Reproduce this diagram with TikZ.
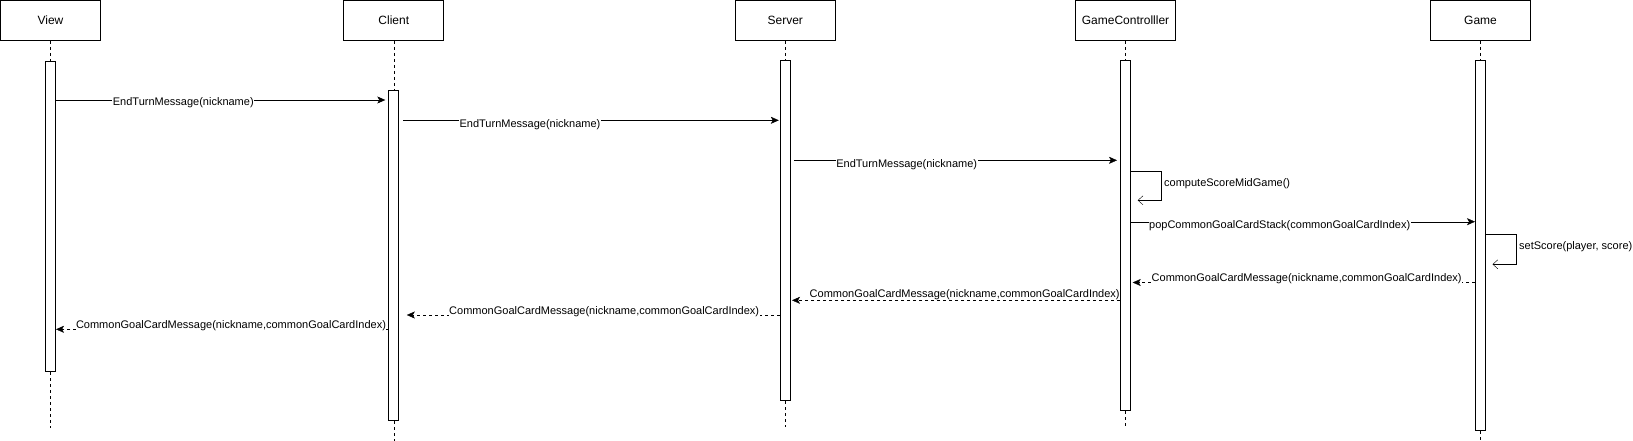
\documentclass[tikz,border=0pt]{standalone}
\usepackage{fontspec}
\setmainfont{Liberation Sans}
\usetikzlibrary{arrows.meta,calc}
\pgfdeclarelayer{bg}
\pgfsetlayers{bg,main}
\begin{document}
\begin{tikzpicture}[x=1pt,y=-1pt,line width=1pt,
  head/.style={draw, fill=white, minimum width=100pt, minimum height=40pt, inner sep=0pt, font=\fontsize{12}{14}\selectfont},
  bar/.style={draw, fill=white, minimum width=10pt, inner sep=0pt, anchor=north},
  life/.style={dash pattern=on 3pt off 3pt},
  msg/.style={-{Stealth[length=8pt,width=7pt,inset=2pt]}},
  ret/.style={dash pattern=on 3pt off 3pt, -{Stealth[length=8pt,width=7pt,inset=2pt]}},
  selfmsg/.style={-{Straight Barb[length=5pt,width=9pt]}},
  lbl/.style={fill=white, inner sep=0.5pt, font=\fontsize{11}{13}\selectfont}]
\path[use as bounding box] (0,0) rectangle (1633,441);

% lifeline heads
\node[head] (view)   at (50.5,20.5)   {View};
\node[head] (client) at (393.8,20.5)  {Client};
\node[head] (server) at (785.3,20.5)  {Server};
\node[head] (gc)     at (1125.5,20.5) {GameControlller};
\node[head] (game)   at (1480.5,20.5) {Game};

% activation bars
\node[bar, minimum height=310.3pt] (vbar)  at (view.south |- 0,61)     {};
\node[bar, minimum height=330pt]   (cbar)  at (client.south |- 0,90)   {};
\node[bar, minimum height=339.7pt] (sbar)  at (server.south |- 0,60.3) {};
\node[bar, minimum height=349.7pt] (gcbar) at (gc.south |- 0,60.3)     {};
\node[bar, minimum height=369.7pt] (gbar)  at (game.south |- 0,60.3)   {};

% lifeline ends
\coordinate (vend)  at (view.south |- 0,428);
\coordinate (cend)  at (client.south |- 0,441);
\coordinate (send)  at (server.south |- 0,427);
\coordinate (gcend) at (gc.south |- 0,427);
\coordinate (gend)  at (game.south |- 0,441);

\begin{pgfonlayer}{bg}
\draw[life] (view.south) -- (vbar.north) (vbar.south) -- (vend);
\draw[life] (client.south) -- (cbar.north) (cbar.south) -- (cend);
\draw[life] (server.south) -- (sbar.north) (sbar.south) -- (send);
\draw[life] (gc.south) -- (gcbar.north) (gcbar.south) -- (gcend);
\draw[life] (game.south) -- (gbar.north) (gbar.south) -- (gend);

% messages
\draw[msg] (vbar.east |- 0,100) -- ($(cbar.west |- 0,100)+(-3,0)$);
\node[lbl] (l1) at (183.3,102.3) {EndTurnMessage(nickname)};

\draw[msg] ($(cbar.east |- 0,120.3)+(4,0)$) -- ($(sbar.west |- 0,120.3)+(-1,0)$);
\node[lbl] (l2) at (530,124.7) {EndTurnMessage(nickname)};

\draw[msg] ($(sbar.east |- 0,160.3)+(3,0)$) -- ($(gcbar.west |- 0,160.3)+(-3,0)$);
\node[lbl] (l3) at (906.7,165) {EndTurnMessage(nickname)};

\draw[selfmsg] (gcbar.east |- 0,170.7) -- ++(30.3,0) -- ++(0,29.6) -- ++(-23.6,0);
\node[lbl, anchor=west] (l4) at (1163.5,183.3) {computeScoreMidGame()};

\draw[msg] (gcbar.east |- 0,221.7) -- (gbar.west |- 0,221.7);
\node[lbl] (l5) at (1279.7,226) {popCommonGoalCardStack(commonGoalCardIndex)};

\draw[selfmsg] (gbar.east |- 0,234.3) -- ++(30.5,0) -- ++(0,30) -- ++(-24,0);
\node[lbl, anchor=west] (l6) at (1518.5,246.7) {setScore(player, score)};

\draw[ret] (gbar.west |- 0,282.5) -- ($(gcbar.east |- 0,282.5)+(1.7,0)$);
\node[lbl] (l7) at (1306.7,278.3) {CommonGoalCardMessage(nickname,commonGoalCardIndex)};

\draw[ret] (gcbar.west |- 0,300.3) -- ($(sbar.east |- 0,300.3)+(1.2,0)$);
\node[lbl] (l8) at (964.7,294.3) {CommonGoalCardMessage(nickname,commonGoalCardIndex)};

\draw[ret] (sbar.west |- 0,315) -- ($(cbar.east |- 0,315)+(7.5,0)$);
\node[lbl] (l9) at (604.2,311.7) {CommonGoalCardMessage(nickname,commonGoalCardIndex)};

\draw[ret] (cbar.west |- 0,329.3) -- (vbar.east |- 0,329.3);
\node[lbl] (l10) at (231,326) {CommonGoalCardMessage(nickname,commonGoalCardIndex)};
\end{pgfonlayer}
\end{tikzpicture}
\end{document}
